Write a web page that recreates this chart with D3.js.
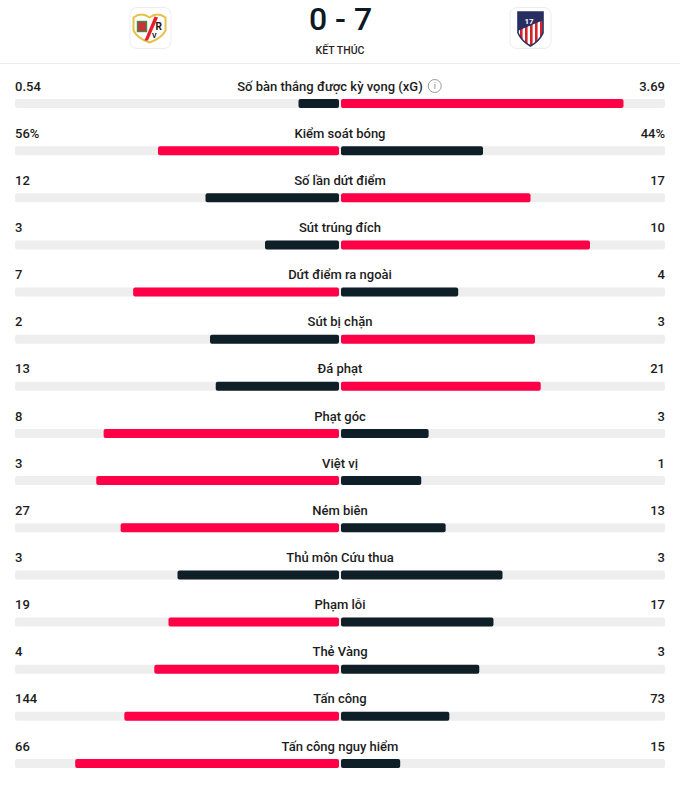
<!DOCTYPE html>
<html>
<head>
<meta charset="utf-8">
<script src="https://cdn.jsdelivr.net/npm/d3@7"></script>
<style>
	body { margin: 0; background: #fff; }
	svg text { font-family: Roboto, "Noto Sans", sans-serif; }
</style>
</head>
<body>
<svg id="chart" width="680" height="789"></svg>
<script>
var labels = [
	"Số bàn thắng được kỳ vọng (xG)", "Kiểm soát bóng", "Số lần dứt điểm", "Sút trúng đích",
	"Dứt điểm ra ngoài", "Sút bị chặn", "Đá phạt", "Phạt góc", "Việt vị", "Ném biên",
	"Thủ môn Cứu thua", "Phạm lỗi", "Thẻ Vàng", "Tấn công", "Tấn công nguy hiểm"
];
var homeValues = [0.54, 56, 12, 3, 7, 2, 13, 8, 3, 27, 3, 19, 4, 144, 66];
var awayValues = [3.69, 44, 17, 10, 4, 3, 21, 3, 1, 13, 3, 17, 3, 73, 15];
var homeText = ["0.54", "56%", "12", "3", "7", "2", "13", "8", "3", "27", "3", "19", "4", "144", "66"];
var awayText = ["3.69", "44%", "17", "10", "4", "3", "21", "3", "1", "13", "3", "17", "3", "73", "15"];
var score = "0 - 7",
	status = "KẾT THÚC";

var svg = d3.select("#chart"),
	width = 680,
	left = 15,
	right = 665,
	center = (left + right) / 2,
	half = center - left,
	barH = 9,
	red = "#ff0046",
	dark = "#0f1f28";

/*
header
*/
var header = svg.append("g");
header.append("text")
	.attr("x", center + 0.5).attr("y", 30)
	.attr("text-anchor", "middle")
	.attr("font-size", 32).attr("font-weight", 500)
	.attr("fill", "#0b1a24")
	.text(score);
header.append("text")
	.attr("x", center).attr("y", 54)
	.attr("text-anchor", "middle")
	.attr("font-size", 10.5).attr("font-weight", 500)
	.attr("fill", "#2a1e24")
	.text(status);
header.append("line")
	.attr("x1", 0).attr("x2", width)
	.attr("y1", 63.5).attr("y2", 63.5)
	.attr("stroke", "#ececec");

[150.5, 530.5].forEach(function(cx) {
	header.append("rect")
		.attr("x", cx - 20.5).attr("y", 7.5)
		.attr("width", 41).attr("height", 41)
		.attr("rx", 7)
		.attr("fill", "#fff").attr("stroke", "#ededed");
});

// Rayo Vallecano crest (simplified)
var rayo = header.append("g").attr("transform", "translate(149.5,27.5)");
rayo.append("path")
	.attr("d", "M-16,-10 Q-8,-16 0,-10 Q8,-16 16,-10 L16,3 Q12,11 0,15 Q-12,11 -16,3 Z")
	.attr("fill", "#fff").attr("stroke", "#e6c14a").attr("stroke-width", 2);
rayo.append("rect").attr("x", -12).attr("y", -6).attr("width", 9).attr("height", 10)
	.attr("fill", "#c8323a").attr("stroke", "#3f8a3f").attr("stroke-width", 1.4);
rayo.append("path").attr("d", "M5,-11 L-5,13 L-1.5,13 L8.5,-10 Z").attr("fill", "#e5202a");
rayo.append("text").attr("x", 6).attr("y", 2).attr("font-size", 10).attr("font-weight", 700)
	.attr("fill", "#111").text("R");
rayo.append("text").attr("x", 2.5).attr("y", 10).attr("font-size", 7).attr("font-weight", 700)
	.attr("fill", "#111").text("V");

// Atletico crest (simplified)
var atm = header.append("g").attr("transform", "translate(530.5,28)");
var shield = "M-12.5,-16 L12.5,-16 L12.5,5 Q9,13 0,18 Q-9,13 -12.5,5 Z";
atm.append("clipPath").attr("id", "atmClip").append("path").attr("d", shield);
var atmG = atm.append("g").attr("clip-path", "url(#atmClip)");
atmG.append("rect").attr("x", -13).attr("y", -17).attr("width", 26).attr("height", 36).attr("fill", "#fff");
d3.range(-10.5, 13, 5).forEach(function(x) {
	atmG.append("rect").attr("x", x).attr("y", -17).attr("width", 2.6).attr("height", 36).attr("fill", "#d2232a");
});
atmG.append("path").attr("d", "M-13,-17 L13,-17 L13,-8 L-13,3 Z").attr("fill", "#272e61");
atm.append("path").attr("d", shield).attr("fill", "none").attr("stroke", "#272e61").attr("stroke-width", 1.6);
atm.append("text").attr("x", -6).attr("y", -4).attr("font-size", 8).attr("font-weight", 700)
	.attr("fill", "#fff").text("17");

/*
rows
*/
var yScale = d3.scalePoint()
	.domain(labels)
	.range([86, 86 + 47.14 * (labels.length - 1)]);

var rows = svg.selectAll("g.row")
	.data(labels)
	.enter()
	.append("g")
	.attr("class", "row")
	.attr("transform", function(d) { return "translate(0," + yScale(d) + ")"; });

rows.append("text")
	.attr("class", "label")
	.attr("x", function(d, i) { return i === 0 ? center - 10 : center; })
	.attr("dy", "0.35em")
	.attr("text-anchor", "middle")
	.attr("font-size", 13).attr("font-weight", 500).attr("fill", "#1c1c1c")
	.text(function(d) { return d; });
rows.append("text")
	.attr("x", left).attr("dy", "0.35em")
	.attr("font-size", 13).attr("font-weight", 500).attr("fill", "#1c1c1c")
	.text(function(d, i) { return homeText[i]; });
rows.append("text")
	.attr("x", right).attr("dy", "0.35em")
	.attr("text-anchor", "end")
	.attr("font-size", 13).attr("font-weight", 500).attr("fill", "#1c1c1c")
	.text(function(d, i) { return awayText[i]; });

rows.append("rect")
	.attr("x", left).attr("y", 13)
	.attr("width", right - left).attr("height", barH)
	.attr("rx", 2)
	.attr("fill", "#eeeeee");

rows.each(function(d, i) {
	var g = d3.select(this),
		h = homeValues[i],
		a = awayValues[i],
		x = d3.scaleLinear().domain([0, h + a]).range([0, half]);
	g.append("rect")
		.attr("x", center - x(h)).attr("y", 13)
		.attr("width", x(h) - 1).attr("height", barH)
		.attr("rx", 2)
		.attr("fill", h > a ? red : dark);
	g.append("rect")
		.attr("x", center + 1).attr("y", 13)
		.attr("width", x(a) - 1).attr("height", barH)
		.attr("rx", 2)
		.attr("fill", a > h ? red : dark);
});

// info icon next to xG label
var first = svg.select("g.row");
var lbl = first.select("text.label").node().getBBox();
var info = first.append("g").attr("transform", "translate(" + (lbl.x + lbl.width + 12) + ",0)");
info.append("circle").attr("r", 6.5).attr("fill", "none").attr("stroke", "#9a9a9a").attr("stroke-width", 1);
info.append("text").attr("dy", "0.35em").attr("text-anchor", "middle")
	.attr("font-size", 9).attr("fill", "#8a8a8a").text("i");
</script>
</body>
</html>
